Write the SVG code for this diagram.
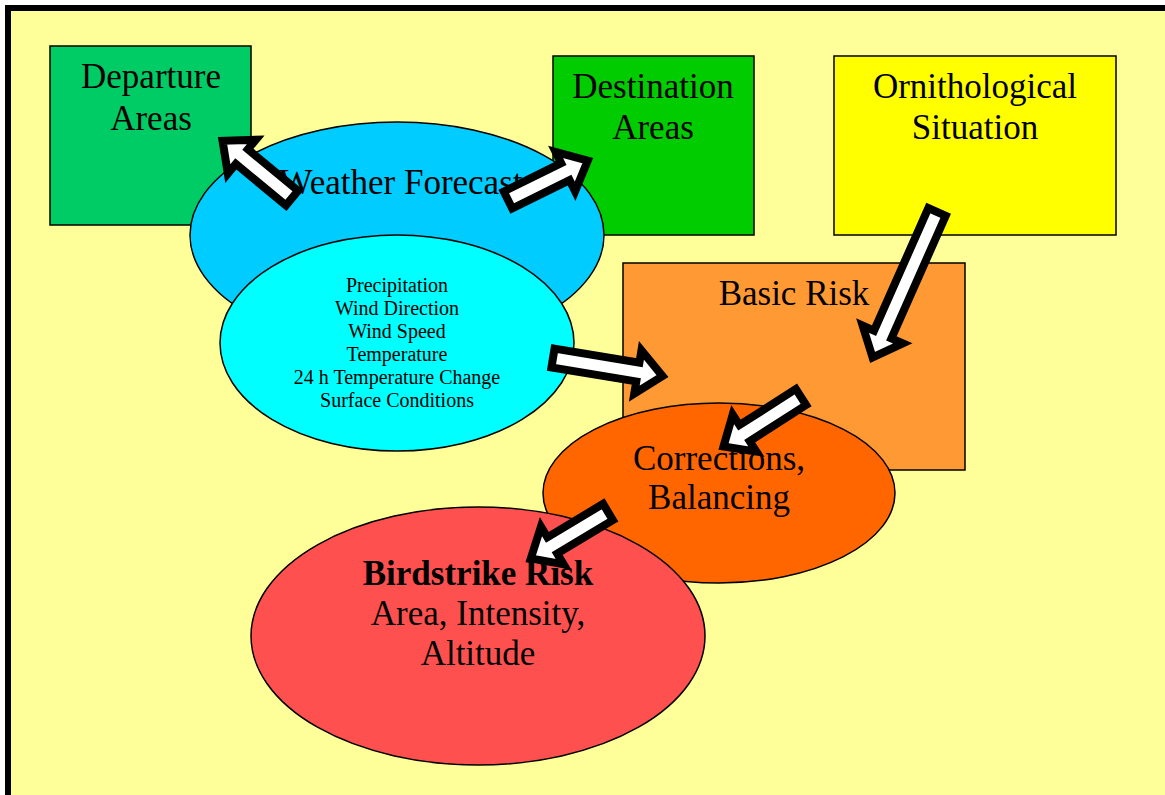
<svg xmlns="http://www.w3.org/2000/svg" width="1165" height="795" viewBox="0 0 1165 795">
<style>
.t{font-family:"Liberation Serif","Times New Roman",serif;font-size:35px;fill:#000;text-anchor:middle}
.s{font-family:"Liberation Serif","Times New Roman",serif;font-size:20px;fill:#000;text-anchor:middle}
.b{font-weight:bold}
.sh{stroke:#000;stroke-width:1.5}
.arr{fill:#fff;stroke:#000;stroke-width:8;stroke-linejoin:miter;stroke-miterlimit:10}
</style>
<rect x="0" y="0" width="1165" height="795" fill="#fff"/>
<rect x="8" y="8" width="1200" height="820" fill="#FFFF99" stroke="#000" stroke-width="6"/>
<g id="departure">
<rect class="sh" x="50" y="46" width="201" height="179" fill="#00CC66"/>
<text class="t" x="151" y="88">Departure</text>
<text class="t" x="151" y="130">Areas</text>
</g>
<g id="destination">
<rect class="sh" x="553" y="56" width="201" height="179" fill="#00CC00"/>
<text class="t" x="653" y="98">Destination</text>
<text class="t" x="653" y="139">Areas</text>
</g>
<g id="ornithological">
<rect class="sh" x="834" y="56" width="282" height="179" fill="#FFFF00"/>
<text class="t" x="975" y="98">Ornithological</text>
<text class="t" x="975" y="139">Situation</text>
</g>
<g id="weather">
<ellipse class="sh" cx="397" cy="235" rx="207" ry="113" fill="#00CCFF"/>
<text class="t" x="401" y="194">Weather Forecast</text>
</g>
<g id="parameters">
<ellipse class="sh" cx="397" cy="343" rx="177" ry="108" fill="#00FFFF"/>
<text class="s" x="397" y="292">Precipitation</text>
<text class="s" x="397" y="315">Wind Direction</text>
<text class="s" x="397" y="338">Wind Speed</text>
<text class="s" x="397" y="361">Temperature</text>
<text class="s" x="397" y="384">24 h Temperature Change</text>
<text class="s" x="397" y="407">Surface Conditions</text>
</g>
<g id="basicrisk">
<rect class="sh" x="623" y="263" width="342" height="207" fill="#FF9933"/>
<text class="t" x="794" y="305">Basic Risk</text>
</g>
<g id="corrections">
<ellipse class="sh" cx="719" cy="493" rx="176" ry="90" fill="#FF6600"/>
<text class="t" x="719" y="470">Corrections,</text>
<text class="t" x="719" y="509">Balancing</text>
</g>
<g id="birdstrike">
<ellipse class="sh" cx="478" cy="636" rx="227" ry="129" fill="#FF5050"/>
<text class="t b" x="478" y="585">Birdstrike Risk</text>
<text class="t" x="478" y="625">Area, Intensity,</text>
<text class="t" x="478" y="665">Altitude</text>
</g>
<g id="connectors">
<path class="arr" transform="translate(292,198) rotate(219.5)" d="M0,-9.5 H65 V-22 L90,0 L65,22 V9.5 H0 Z"/>
<path class="arr" transform="translate(508,200) rotate(-26.3)" d="M0,-9.5 H64 V-22 L89,0 L64,22 V9.5 H0 Z"/>
<path class="arr" transform="translate(553,358) rotate(9.4)" d="M0,-9.5 H86 V-22 L111,0 L86,22 V9.5 H0 Z"/>
<path class="arr" transform="translate(937,212) rotate(113.9)" d="M0,-9.5 H134 V-22 L159,0 L134,22 V9.5 H0 Z"/>
<path class="arr" transform="translate(801,397) rotate(147.4)" d="M0,-9.5 H67 V-22 L92,0 L67,22 V9.5 H0 Z"/>
<path class="arr" transform="translate(608,512) rotate(149)" d="M0,-9.5 H65 V-22 L90,0 L65,22 V9.5 H0 Z"/>
</g>
</svg>
